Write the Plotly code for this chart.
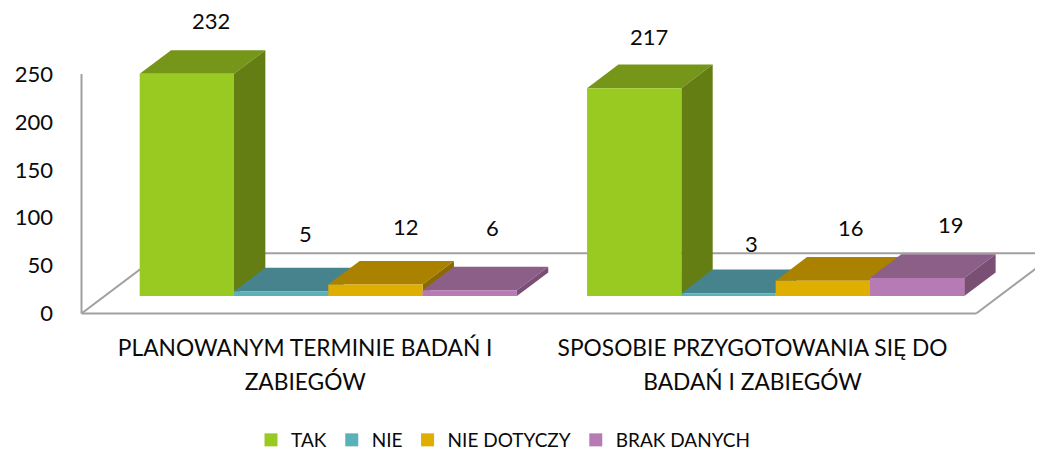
import plotly.graph_objects as go

categories = ["PLANOWANYM TERMINIE BADAŃ I<br>ZABIEGÓW", "SPOSOBIE PRZYGOTOWANIA SIĘ DO<br>BADAŃ I ZABIEGÓW"]
series = ["TAK", "NIE", "NIE DOTYCZY", "BRAK DANYCH"]
tak = [232, 217]
nie = [5, 3]
nie_dotyczy = [12, 16]
brak_danych = [6, 19]
y_ticks = [0, 50, 100, 150, 200, 250]

values = [tak, nie, nie_dotyczy, brak_danych]
front_col = ["#99CA22", "#5AB1B9", "#DEAE00", "#B67BB4"]
top_col = ["#759618", "#47838C", "#AA8200", "#8C5F88"]
side_col = ["#657E14", "#3E727A", "#8A6A00", "#7A4F74"]

# label nudges in px per series/category (the original labels were hand placed)
lab_dx = [[24, 15], [24, 23], [31, 28], [23, 34]]
lab_dy = [[53, 52], [58, 50], [58, 53], [63, 53]]

BODY = 8             # the page's own margin round the figure
FIG_W, FIG_H = 1043, 451
PX_CAT = 447.35      # px per category
PX_VAL = 0.9612      # px per value unit
FLOOR_DX = 80 / PX_CAT     # depth of floor, x units
FLOOR_DY = 60.5 / PX_VAL   # depth of floor, value units
F0, F1 = 0.289, 0.681      # bar front/back depth as a fraction of the floor
BAR_W = 0.2108
# plot area in figure pixels
PLOT_L, PLOT_R, PLOT_T, PLOT_B = 70 - BODY, 1043 - BODY, 0, 320 - BODY
AXIS_X, AXIS_Y = 81.5 - BODY, 314.5 - BODY
X0 = -0.5 - (AXIS_X - PLOT_L) / PX_CAT
X1 = X0 + (PLOT_R - PLOT_L) / PX_CAT
Y0 = -(PLOT_B - AXIS_Y) / PX_VAL
Y1 = Y0 + (PLOT_B - PLOT_T) / PX_VAL


def proj(x, v, f):
    return x + f * FLOOR_DX, v + f * FLOOR_DY


def poly(points, color):
    xs = [p[0] for p in points] + [points[0][0]]
    ys = [p[1] for p in points] + [points[0][1]]
    return go.Scatter(x=xs, y=ys, mode="lines", fill="toself", fillcolor=color,
                      line=dict(width=0, color=color), hoverinfo="skip", showlegend=False)


fig = go.Figure()
LEFT, RIGHT = -0.5, 1.5
GRID = "#A0A0A0"
frame = [
    [proj(LEFT, 0, 1), proj(RIGHT, 0, 1)],
    [proj(LEFT, 0, 0), proj(LEFT, 0, 1)],
    [proj(RIGHT, 0, 0), proj(RIGHT, 0, 1)],
    [(LEFT, 0), (RIGHT, 0)],
    [(LEFT, 0), (LEFT, 250)],
]
for seg in frame:
    fig.add_trace(go.Scatter(x=[p[0] for p in seg], y=[p[1] for p in seg], mode="lines",
                             line=dict(color=GRID, width=2), hoverinfo="skip", showlegend=False))

annotations = []
for c in range(len(categories)):
    start = c - 2 * BAR_W
    for s in range(len(series)):
        v = values[s][c]
        a, b = start + s * BAR_W, start + (s + 1) * BAR_W
        fig.add_trace(poly([proj(a, v, F0), proj(b, v, F0), proj(b, v, F1), proj(a, v, F1)], top_col[s]))
        fig.add_trace(poly([proj(b, 0, F0), proj(b, v, F0), proj(b, v, F1), proj(b, 0, F1)], side_col[s]))
        fig.add_trace(poly([proj(a, 0, F0), proj(b, 0, F0), proj(b, v, F0), proj(a, v, F0)], front_col[s]))
        cx, cy = proj((a + b) / 2, v, F0)
        annotations.append(dict(x=cx, y=cy, xref="x", yref="y", text=str(v), showarrow=False,
                                xshift=lab_dx[s][c], yshift=lab_dy[s][c],
                                font=dict(family="Lato", size=22, color="#0A0A0A")))

for s, name in enumerate(series):
    fig.add_trace(go.Scatter(x=[None], y=[None], mode="markers", name=name,
                             marker=dict(symbol="square", size=13, color=front_col[s])))

SPAN = "<span style='font-size:22.75px'>%s</span>"
ticktext = ["<br>".join(SPAN % part for part in c.split("<br>")) for c in categories]

fig.update_layout(
    width=FIG_W, height=FIG_H, autosize=False,
    margin=dict(l=PLOT_L, r=FIG_W - PLOT_R, t=PLOT_T, b=FIG_H - PLOT_B, pad=0),
    paper_bgcolor="white", plot_bgcolor="white",
    font=dict(family="Lato", color="#0A0A0A"),
    annotations=annotations,
    xaxis=dict(range=[X0, X1], tickmode="array", tickvals=[0, 1], ticktext=ticktext, automargin=False,
               showgrid=False, zeroline=False, showline=False, ticks="", tickangle=0,
               tickfont=dict(size=26, family="Lato", color="#0A0A0A"), ticklabelstandoff=10),
    yaxis=dict(range=[Y0, Y1], tickmode="array", tickvals=y_ticks, showgrid=False, automargin=False,
               zeroline=False, showline=False, ticks="",
               tickfont=dict(size=22, family="Lato", color="#0A0A0A"), ticklabelstandoff=16),
    legend=dict(orientation="h", xref="paper", yref="paper",
                x=(251 - BODY - PLOT_L) / (PLOT_R - PLOT_L), xanchor="left",
                y=-(442 - BODY - PLOT_B) / (PLOT_B - PLOT_T), yanchor="middle",
                font=dict(family="Lato", size=19, color="#0A0A0A"), itemwidth=30,
                bgcolor="rgba(0,0,0,0)", tracegroupgap=0),
    hovermode=False,
)
fig.write_html("out.html")
